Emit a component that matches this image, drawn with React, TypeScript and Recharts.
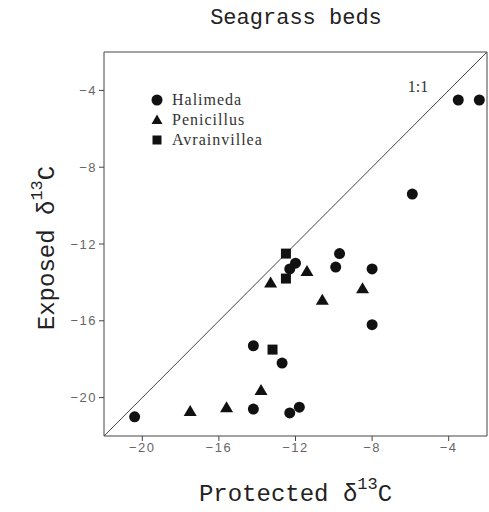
import { ScatterChart, Scatter, XAxis, YAxis, ReferenceLine, ReferenceDot, Legend, Label } from "recharts";

// Protected (x) vs Exposed (y) delta 13C
const halimeda = [
  { x: -3.5, y: -4.5 },
  { x: -2.4, y: -4.5 },
  { x: -5.9, y: -9.4 },
  { x: -9.7, y: -12.5 },
  { x: -12.0, y: -13.0 },
  { x: -12.3, y: -13.3 },
  { x: -9.9, y: -13.2 },
  { x: -8.0, y: -13.3 },
  { x: -8.0, y: -16.2 },
  { x: -14.2, y: -17.3 },
  { x: -12.7, y: -18.2 },
  { x: -14.2, y: -20.6 },
  { x: -12.3, y: -20.8 },
  { x: -11.8, y: -20.5 },
  { x: -20.4, y: -21.0 },
];
const penicillus = [
  { x: -11.4, y: -13.4 },
  { x: -13.3, y: -14.0 },
  { x: -8.5, y: -14.3 },
  { x: -10.6, y: -14.9 },
  { x: -13.8, y: -19.6 },
  { x: -17.5, y: -20.7 },
  { x: -15.6, y: -20.5 },
];
const avrainvillea = [
  { x: -12.5, y: -12.5 },
  { x: -12.5, y: -13.8 },
  { x: -13.2, y: -17.5 },
];

const ticks = [-20, -16, -12, -8, -4];
const domain = [-22, -2];
const oneToOne = [{ x: -22, y: -22 }, { x: -2, y: -2 }];
const topEdge = [{ x: -22, y: -2 }, { x: -2, y: -2 }];
const rightEdge = [{ x: -2, y: -22 }, { x: -2, y: -2 }];
const legendItems = [
  { name: "Halimeda", shape: "circle" },
  { name: "Penicillus", shape: "triangle" },
  { name: "Avrainvillea", shape: "square" },
];

const ink = "#111";
const mono = "'Liberation Mono', 'DejaVu Sans Mono', monospace";

const Dot = (p: any) => <circle cx={p.cx} cy={p.cy} r={5.5} fill={ink} />;
const Tri = (p: any) => (
  <polygon points={`${p.cx},${p.cy - 6} ${p.cx - 6.5},${p.cy + 5} ${p.cx + 6.5},${p.cy + 5}`} fill={ink} />
);
const Sq = (p: any) => <rect x={p.cx - 5} y={p.cy - 5} width={10} height={10} fill={ink} />;

const icon = (shape: string) => {
  if (shape === "circle") return <circle cx={7} cy={7} r={5.5} fill={ink} />;
  if (shape === "triangle") return <polygon points="7,1.5 1.5,11 12.5,11" fill={ink} />;
  return <rect x={2.5} y={2.5} width={9} height={9} fill={ink} />;
};

const LegendBox = () => (
  <div style={{ fontFamily: "'Liberation Serif', serif", fontSize: 16, color: "#333" }}>
    {legendItems.map((it) => (
      <div key={it.name} style={{ display: "flex", alignItems: "center", height: 20 }}>
        <svg width={14} height={14} style={{ marginRight: 8 }}>{icon(it.shape)}</svg>
        <span style={{ letterSpacing: 1 }}>{it.name}</span>
      </div>
    ))}
  </div>
);

const fmt = (v: number) => String(v).replace("-", "\u2212");
const tickStyle = { fontFamily: "'Liberation Sans', sans-serif", fontSize: 13, fill: "#666", letterSpacing: 1.5 };

export default function App() {
  return (
    <div style={{ position: "absolute", left: 0, top: 0, width: 489, height: 512, background: "#fff" }}>
      <div
        style={{
          position: "absolute",
          left: 0,
          width: 592,
          top: 6,
          textAlign: "center",
          fontFamily: mono,
          fontSize: 22,
          color: "#222",
        }}
      >
        Seagrass beds
      </div>
      <ScatterChart width={489} height={512} margin={{ top: 52, right: 2, bottom: 46, left: 44 }}>
        <XAxis
          type="number"
          dataKey="x"
          domain={domain}
          ticks={ticks}
          tickFormatter={fmt}
          tick={tickStyle}
          stroke="#444"
          tickSize={5}
          height={30}
        >
          <Label
            content={(props: any) => {
              const vb = props.viewBox;
              return (
                <text x={vb.x + vb.width / 2} y={vb.y + 65} textAnchor="middle" fontFamily={mono} fontSize={24} fill="#222">
                  Protected {"\u03b4"}
                  <tspan dy={-12} fontSize={17}>13</tspan>
                  <tspan dy={12}>C</tspan>
                </text>
              );
            }}
          />
        </XAxis>
        <YAxis
          type="number"
          dataKey="y"
          domain={domain}
          ticks={ticks}
          tickFormatter={fmt}
          tick={tickStyle}
          stroke="#444"
          tickSize={5}
          width={60}
        >
          <Label
            content={(props: any) => {
              const vb = props.viewBox;
              const cx = 54;
              const cy = vb.y + vb.height / 2 + 4;
              return (
                <text x={cx} y={cy} transform={`rotate(-90, ${cx}, ${cy})`} textAnchor="middle" fontFamily={mono} fontSize={24} fill="#222">
                  Exposed {"\u03b4"}
                  <tspan dy={-12} fontSize={17}>13</tspan>
                  <tspan dy={12}>C</tspan>
                </text>
              );
            }}
          />
        </YAxis>
        <ReferenceLine segment={topEdge} stroke="#444" strokeWidth={1} ifOverflow="visible" />
        <ReferenceLine segment={rightEdge} stroke="#444" strokeWidth={1} ifOverflow="visible" />
        <ReferenceLine segment={oneToOne} stroke="#444" strokeWidth={1} ifOverflow="visible" />
        <ReferenceDot
          x={-5.6}
          y={-3.8}
          r={0}
          label={{ value: "1:1", position: "center", fontFamily: "'Liberation Serif', serif", fontSize: 16, fill: "#333" }}
        />
        <Legend
          content={<LegendBox />}
          layout="vertical"
          verticalAlign="middle"
          align="center"
          wrapperStyle={{ position: "absolute", left: 150, top: 90, width: 150 }}
        />
        <Scatter name="Halimeda" data={halimeda} shape={Dot} isAnimationActive={false} />
        <Scatter name="Penicillus" data={penicillus} shape={Tri} isAnimationActive={false} />
        <Scatter name="Avrainvillea" data={avrainvillea} shape={Sq} isAnimationActive={false} />
      </ScatterChart>
    </div>
  );
}
